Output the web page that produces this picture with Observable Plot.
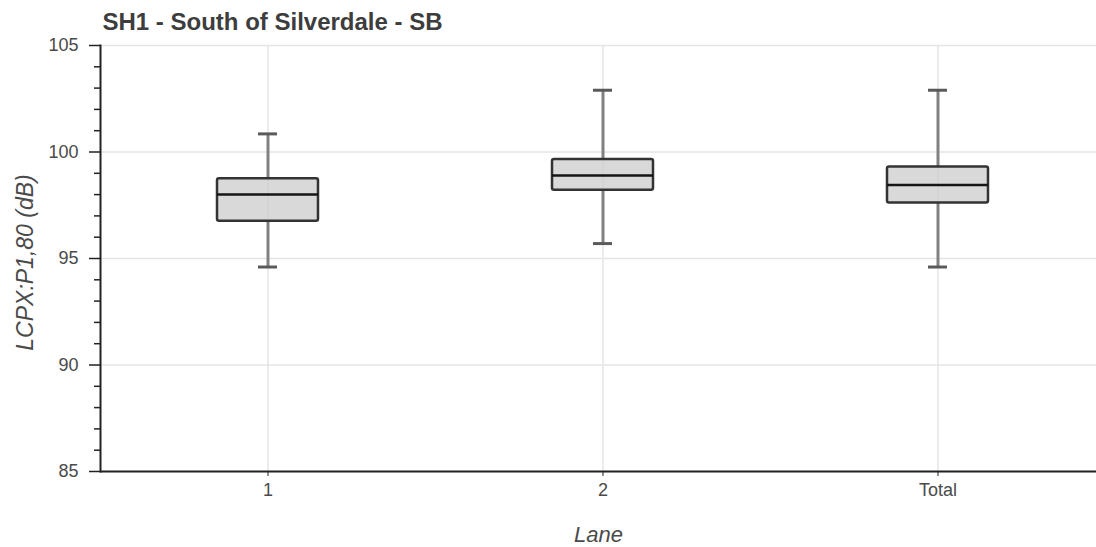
<!DOCTYPE html>
<html>
<head>
<meta charset="utf-8">
<script src="https://cdn.jsdelivr.net/npm/d3@7"></script>
<script src="https://cdn.jsdelivr.net/npm/@observablehq/plot@0.6"></script>
<style>
  html, body { margin: 0; padding: 0; background: #fff; }
  #chart svg { font-family: "Liberation Sans", Arial, sans-serif; display: block; }
</style>
</head>
<body>
<div id="chart"></div>
<script>
const title = "SH1 - South of Silverdale - SB";
const yLabel = "LCPX:P1,80 (dB)";
const xLabel = "Lane";
const lanes = ["1", "2", "Total"];
const whiskerLow = [94.6, 95.7, 94.6];
const quartile1 = [96.75, 98.2, 97.6];
const medians = [98.0, 98.9, 98.45];
const quartile3 = [98.75, 99.65, 99.3];
const whiskerHigh = [100.85, 102.9, 102.9];
const majorTicks = [85, 90, 95, 100, 105];
const minorTicks = [86, 87, 88, 89, 91, 92, 93, 94, 96, 97, 98, 99, 101, 102, 103, 104];

const data = lanes.map((lane, i) => ({
  lane, lo: whiskerLow[i], q1: quartile1[i], med: medians[i], q3: quartile3[i], hi: whiskerHigh[i]
}));

const textColor = "#4a4a4a";

const chart = Plot.plot({
  width: 1096,
  height: 547,
  marginLeft: 100,
  marginRight: 0,
  marginTop: 45,
  marginBottom: 76,
  style: { fontSize: "18px", color: textColor, background: "#fff" },
  x: { type: "band", domain: lanes, range: [100, 1105], padding: 0, label: null },
  y: { domain: [85, 105], label: null },
  marks: [
    Plot.gridY(majorTicks, { stroke: "#e5e5e5", strokeOpacity: 1, strokeWidth: 1.5 }),
    Plot.gridX(lanes, { stroke: "#e5e5e5", strokeOpacity: 1, strokeWidth: 1.5 }),
    Plot.ruleX(data, { x: "lane", y1: "lo", y2: "q1", stroke: "#808080", strokeWidth: 3 }),
    Plot.ruleX(data, { x: "lane", y1: "q3", y2: "hi", stroke: "#808080", strokeWidth: 3 }),
    Plot.tickY(data, { x: "lane", y: "lo", inset: 158, stroke: "#5a5a5a", strokeWidth: 3 }),
    Plot.tickY(data, { x: "lane", y: "hi", inset: 158, stroke: "#5a5a5a", strokeWidth: 3 }),
    Plot.barY(data, { x: "lane", y1: "q1", y2: "q3", insetLeft: 117, insetRight: 117, rx: 2,
      fill: "#cccccc", fillOpacity: 0.75, stroke: "#333", strokeWidth: 2.5 }),
    Plot.tickY(data, { x: "lane", y: "med", inset: 117, stroke: "#151515", strokeWidth: 2.5 }),
    Plot.axisY({ ticks: minorTicks, tickSize: 6, tickFormat: () => "", stroke: "#222", strokeWidth: 1.5 }),
    Plot.axisY({ ticks: majorTicks, tickSize: 11, tickPadding: 11, stroke: "#222", strokeWidth: 1.5,
      fill: textColor, fontSize: 18 }),
    Plot.axisX({ tickSize: 5, tickPadding: 7, stroke: "#222", fill: textColor, fontSize: 18 }),
    Plot.frame({ anchor: "left", stroke: "#222", strokeWidth: 2 }),
    Plot.ruleY([85], { stroke: "#222", strokeWidth: 2 }),
    Plot.text([title], { frameAnchor: "top-left", textAnchor: "start", lineAnchor: "top", dx: 2, dy: -33,
      fontWeight: "bold", fontSize: 24, fill: "#3d3d3d" }),
    Plot.text([yLabel], { frameAnchor: "left", textAnchor: "middle", lineAnchor: "middle", rotate: -90,
      dx: -75, dy: 4, fontStyle: "italic", fontSize: 23, fill: textColor }),
    Plot.text([xLabel], { frameAnchor: "bottom", lineAnchor: "bottom", dy: 70, fontStyle: "italic",
      fontSize: 22, fill: textColor })
  ]
});
document.getElementById("chart").appendChild(chart);
</script>
</body>
</html>
